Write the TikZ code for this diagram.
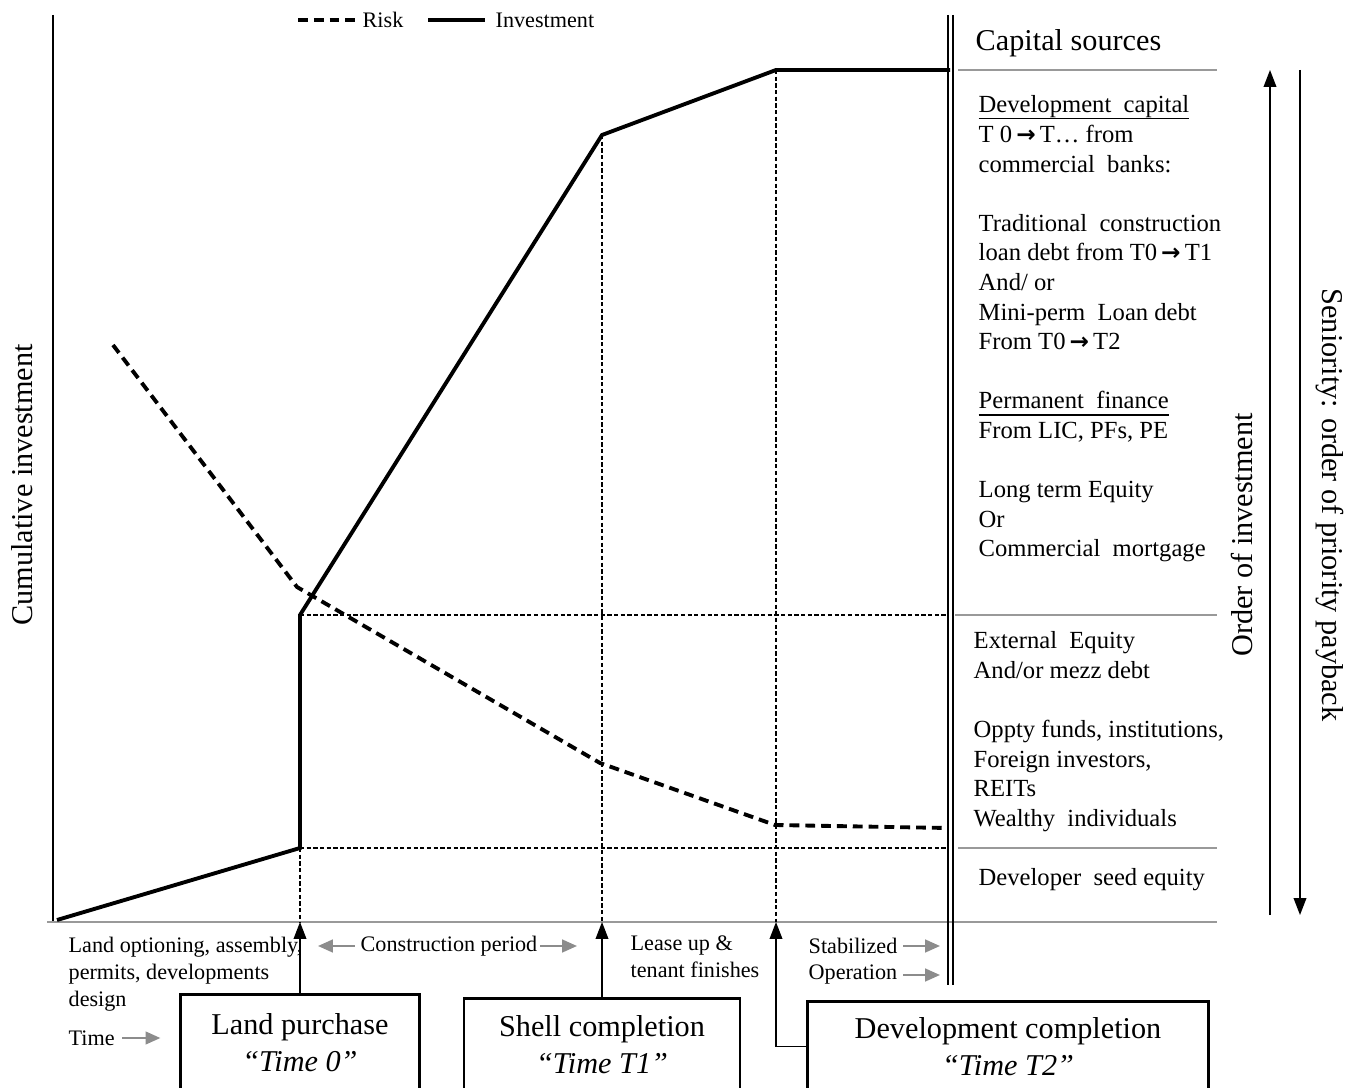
\documentclass[tikz,border=0pt]{standalone}
\usepackage{fontspec}
\setmainfont{Liberation Serif}
\newfontfamily\arrowfont{DejaVu Sans}
\usetikzlibrary{calc,arrows.meta}
\def\drawinv{\draw[line width=1.1pt, line join=miter]}
\def\drawrisk{\draw[line width=1.1pt, dash pattern=on 2.8pt off 1.7pt]}
\def\drawguide{\draw[line width=0.3pt, dash pattern=on 1.2pt off 0.7pt]}
\def\drawrule{\draw[line width=0.6pt, color=black!40]}
\def\greyarrow{\draw[color=black!45, line width=0.6pt, -{Triangle[width=3.6pt,length=4.2pt]}]}
\def\timebox{\node[draw=black, line width=0.8pt, align=center, inner sep=0pt, anchor=north, font=\bigfont]}
\def\bigfont{\fontsize{8.6}{10.5}\selectfont}
\def\colfont{\fontsize{7}{8.42}\selectfont}
\def\smallfont{\fontsize{6.3}{7.7}\selectfont}
\def\ulhead#1{\setbox0\hbox{#1}\rlap{\rule[-1.9pt]{\wd0}{0.4pt}}\box0}
\def\to{\,{\arrowfont\bfseries\fontsize{6.6}{8}\selectfont →}\,}
\tikzset{upward/.style={line width=0.4pt, -{Triangle[width=3.6pt,length=4.8pt]}}}

\begin{document}
\begin{tikzpicture}[x=0.01cm,y=-0.01cm,inner sep=0pt]
\useasboundingbox (0,0) rectangle (1354,1088);
\coordinate (o) at (53,922);   % origin of the chart
\coordinate (dbl) at (948,15); % double line on the right

% axes and frame
\draw[line width=0.4pt] (53,15) -- (o);
\drawrule (47,922) -- (1217,922);
\draw[line width=0.6pt] (dbl) -- (948,985);
\draw[line width=0.45pt] (953,15) -- (953,985);

% Investment curve
\coordinate (inv0) at ($ (o) + (4,-2) $);
\coordinate (inv1) at (300,848);
\coordinate (inv2) at (300,615);
\coordinate (inv3) at (602,135);
\coordinate (inv4) at (776,70);
\coordinate (inv5) at (950,70);
\drawinv (inv0) -- (inv1) -- (inv2) -- (inv3) -- (inv4) -- (inv5);

% Risk curve
\coordinate (risk0) at (113,345);
\coordinate (risk1) at (297,587);
\coordinate (risk2) at (600,763);
\coordinate (risk3) at (775,825);
\coordinate (risk4) at (948,828);
\drawrisk (risk0) -- (risk1) -- (risk2) -- (risk3) -- (risk4);

% guide lines
\drawguide (inv2) -- (inv2 -| dbl);
\drawguide (inv1) -- (inv1 -| dbl);
\drawguide (inv1) -- (inv1 |- o);
\drawguide (inv3) -- (inv3 |- o);
\drawguide (inv4) -- (inv4 |- o);

% legend
\drawrisk (298,20) -- (355,20);
\node[font=\smallfont, anchor=west] (risklbl) at (362,20) {Risk};
\drawinv (428,20) -- (485,20);
\node[font=\smallfont, anchor=west] (invlbl) at (495,20) {Investment};

% capital sources column
\node[font=\bigfont, anchor=west] (capital) at (975,43) {Capital sources};
\drawrule (958,70) -- (1217,70);
\drawrule (955,615) -- (1217,615);
\drawrule (958,848) -- (1217,848);
\node[font=\colfont, anchor=north west, align=left] (senior) at (978,95) {%
\ulhead{Development\ \ capital}\\T 0\to T… from\\commercial\ \ banks:\\[8.42pt]
Traditional\ \ construction\\loan debt from T0\to T1\\And/ or\\Mini-perm\ \ Loan debt\\From T0\to T2\\[8.42pt]
\ulhead{Permanent\ \ finance}\\From LIC, PFs, PE\\[8.42pt]
Long term Equity\\Or\\Commercial\ \ mortgage};
\node[font=\colfont, anchor=north west, align=left] (mezz) at (973,631) {%
External\ \ Equity\\And/or mezz debt\\[8.42pt]
Oppty funds, institutions,\\Foreign investors,\\REITs\\Wealthy\ \ individuals};
\node[font=\colfont, anchor=west] (seed) at (978,880) {Developer\ \ seed equity};

% side labels and arrows
\node[font=\bigfont, rotate=90] (cumlbl) at (22,485) {Cumulative investment};
\node[font=\bigfont, rotate=90] (orderlbl) at (1242,535) {Order of investment};
\node[font=\bigfont, rotate=-90] (senlbl) at (1330,505) {Seniority: order of priority payback};
\draw[upward] (1270,915) -- (1270,70);
\draw[upward] (1300,70) -- (1300,915);

% phases under the time axis
\node[font=\smallfont, anchor=north west, align=left] (prelbl) at (68,936) {Land optioning, assembly,\\permits, developments\\design};
\node[font=\smallfont, anchor=west] (timelbl) at (68,1038) {Time};
\greyarrow ($ (timelbl.east) + (7,0) $) -- ++(38,0);
\node[font=\smallfont] (constr) at (449,946) {Construction period};
\greyarrow ($ (constr.west) + (-5,0) $) -- ++(-37,0);
\greyarrow ($ (constr.east) + (2,0) $) -- ++(37,0);
\node[font=\smallfont, anchor=west, align=left] (lease) at (630,957) {Lease up \&\\tenant finishes};
\node[font=\smallfont, anchor=west] (stab) at (808,946) {Stabilized};
\node[font=\smallfont, anchor=west] (oper) at (808,975) {Operation};
\greyarrow ($ (stab.east) + (5,0) $) -- (940,946);
\greyarrow ($ (oper.east) + (5,0) $) -- (940,975);

% milestone boxes
\timebox[minimum width=2.39cm, minimum height=0.97cm] (land) at (300,993) {Land purchase\\\textit{“Time 0”}};
\timebox[minimum width=2.76cm, minimum height=0.93cm] (shell) at (602,997) {Shell completion\\\textit{“Time T1”}};
\timebox[minimum width=4.0cm, minimum height=0.90cm] (dev) at (1008,1000) {Development completion\\\textit{“Time T2”}};
\draw[upward] (land.north) -- (land.north |- o);
\draw[upward] (shell.north) -- (shell.north |- o);
\draw[upward] (dev.west) -| (inv4 |- o);
\end{tikzpicture}
\end{document}
